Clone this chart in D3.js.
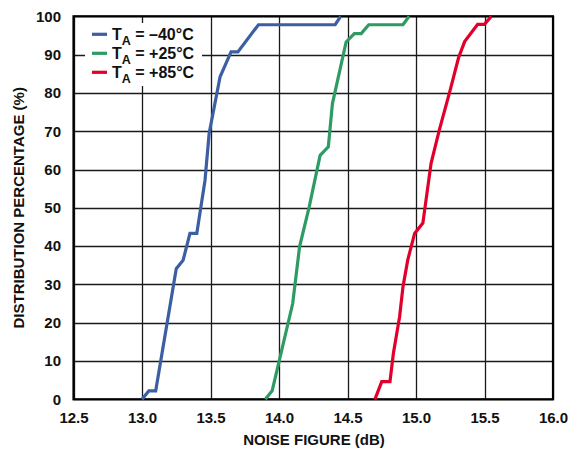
<!DOCTYPE html>
<html>
<head>
<meta charset="utf-8">
<script src="https://cdn.jsdelivr.net/npm/d3@7"></script>
<style>
  html, body { margin: 0; padding: 0; background: #fff; }
  svg { display: block; font-family: "Liberation Sans", Arial, sans-serif; }
</style>
</head>
<body>
<svg id="chart" width="573" height="450"></svg>
<script>
// ---- data ----
const xTicks = [12.5, 13.0, 13.5, 14.0, 14.5, 15.0, 15.5, 16.0];
const yTicks = [0, 10, 20, 30, 40, 50, 60, 70, 80, 90, 100];
const seriesNames = ["\u201340\u00b0C", "+25\u00b0C", "+85\u00b0C"];
const seriesColors = ["#3B5FA2", "#2E9A64", "#E1002B"];

const nfMinus40 = [13.00, 13.05, 13.10, 13.25, 13.30, 13.35, 13.40, 13.46, 13.49, 13.57, 13.65, 13.70, 13.85, 14.41, 14.45];
const pctMinus40 = [0, 2.2, 2.2, 34.1, 36.3, 43.3, 43.3, 57.2, 69.4, 84.2, 90.7, 90.7, 97.8, 97.8, 100];

const nfPlus25 = [13.90, 13.95, 14.10, 14.15, 14.22, 14.30, 14.36, 14.39, 14.49, 14.55, 14.60, 14.655, 14.905, 14.95];
const pctPlus25 = [0, 2.2, 25.0, 39.8, 50.2, 63.7, 65.9, 77.2, 93.3, 95.5, 95.5, 97.8, 97.8, 100];

const nfPlus85 = [14.70, 14.75, 14.81, 14.835, 14.88, 14.905, 14.94, 14.99, 15.05, 15.11, 15.17, 15.25, 15.31, 15.355, 15.45, 15.50, 15.55];
const pctPlus85 = [0, 4.6, 4.6, 12.0, 21.5, 29.4, 36.4, 43.3, 46.0, 61.6, 70.3, 80.8, 89.1, 93.4, 97.9, 97.9, 100];

const seriesX = [nfMinus40, nfPlus25, nfPlus85];
const seriesY = [pctMinus40, pctPlus25, pctPlus85];

// ---- layout ----
const svg = d3.select("#chart");
const L = 73.5, R = 553, T = 16.3, B = 399.3;
const x = d3.scaleLinear().domain([12.5, 16.0]).range([L, R]);
const y = d3.scaleLinear().domain([0, 100]).range([B, T]);
const FS = 15;

// grid
const grid = svg.append("g");
grid.selectAll("line.vx").data(xTicks).enter().append("line")
  .attr("x1", d => Math.round(x(d)) + 0.5).attr("x2", d => Math.round(x(d)) + 0.5)
  .attr("y1", T).attr("y2", B)
  .attr("stroke", "#1a1a1a").attr("stroke-width", 1.3);
grid.selectAll("line.hy").data(yTicks).enter().append("line")
  .attr("x1", L).attr("x2", R)
  .attr("y1", d => Math.round(y(d)) + 0.5).attr("y2", d => Math.round(y(d)) + 0.5)
  .attr("stroke", "#1a1a1a").attr("stroke-width", 1.3);

// legend background box (covers grid)
svg.append("rect").attr("x", 85).attr("y", 23).attr("width", 117).attr("height", 63).attr("fill", "#fff");

// frame
svg.append("rect").attr("x", L).attr("y", T).attr("width", R - L).attr("height", B - T)
  .attr("fill", "none").attr("stroke", "#000").attr("stroke-width", 2.2);

// axes via d3 axis (labels only)
const xAxis = d3.axisBottom(x).tickValues(xTicks).tickFormat(d3.format(".1f")).tickSize(0).tickPadding(13.5);
const gx = svg.append("g").attr("transform", `translate(0,${B})`).call(xAxis);
gx.select(".domain").remove();
gx.selectAll("text").attr("font-size", FS).attr("font-weight", "bold").attr("fill", "#111")
  .attr("font-family", "Liberation Sans, Arial, sans-serif");

const yAxis = d3.axisLeft(y).tickValues(yTicks).tickFormat(d3.format("d")).tickSize(0).tickPadding(12.5);
const gy = svg.append("g").attr("transform", `translate(${L},0)`).call(yAxis);
gy.select(".domain").remove();
gy.selectAll("text").attr("font-size", FS).attr("font-weight", "bold").attr("fill", "#111")
  .attr("font-family", "Liberation Sans, Arial, sans-serif");

// axis titles
svg.append("text").attr("x", 314).attr("y", 445)
  .attr("text-anchor", "middle").attr("font-size", FS).attr("font-weight", "bold").attr("fill", "#111")
  .text("NOISE FIGURE (dB)");
svg.append("text").attr("transform", `translate(24,${(T + B) / 2}) rotate(-90)`)
  .attr("text-anchor", "middle").attr("font-size", FS).attr("font-weight", "bold").attr("fill", "#111")
  .text("DISTRIBUTION PERCENTAGE (%)");

// lines
const line = d3.line().x(d => x(d[0])).y(d => y(d[1]));
seriesX.forEach((xs, i) => {
  const pts = xs.map((v, j) => [v, seriesY[i][j]]);
  svg.append("path").datum(pts).attr("d", line)
    .attr("fill", "none").attr("stroke", seriesColors[i]).attr("stroke-width", 3.2)
    .attr("stroke-linejoin", "miter");
});

// legend
const lg = svg.append("g");
seriesNames.forEach((name, i) => {
  const cy = 34.3 + i * 19;
  lg.append("line").attr("x1", 92).attr("x2", 107).attr("y1", cy).attr("y2", cy)
    .attr("stroke", seriesColors[i]).attr("stroke-width", 3.2);
  const t = lg.append("text").attr("x", 112).attr("y", cy + 6)
    .attr("font-size", 16).attr("font-weight", "bold").attr("fill", "#111");
  t.append("tspan").text("T");
  t.append("tspan").attr("font-size", 12.5).attr("dy", 5).text("A");
  t.append("tspan").attr("dy", -5).text(" = " + name);
});
</script>
</body>
</html>
